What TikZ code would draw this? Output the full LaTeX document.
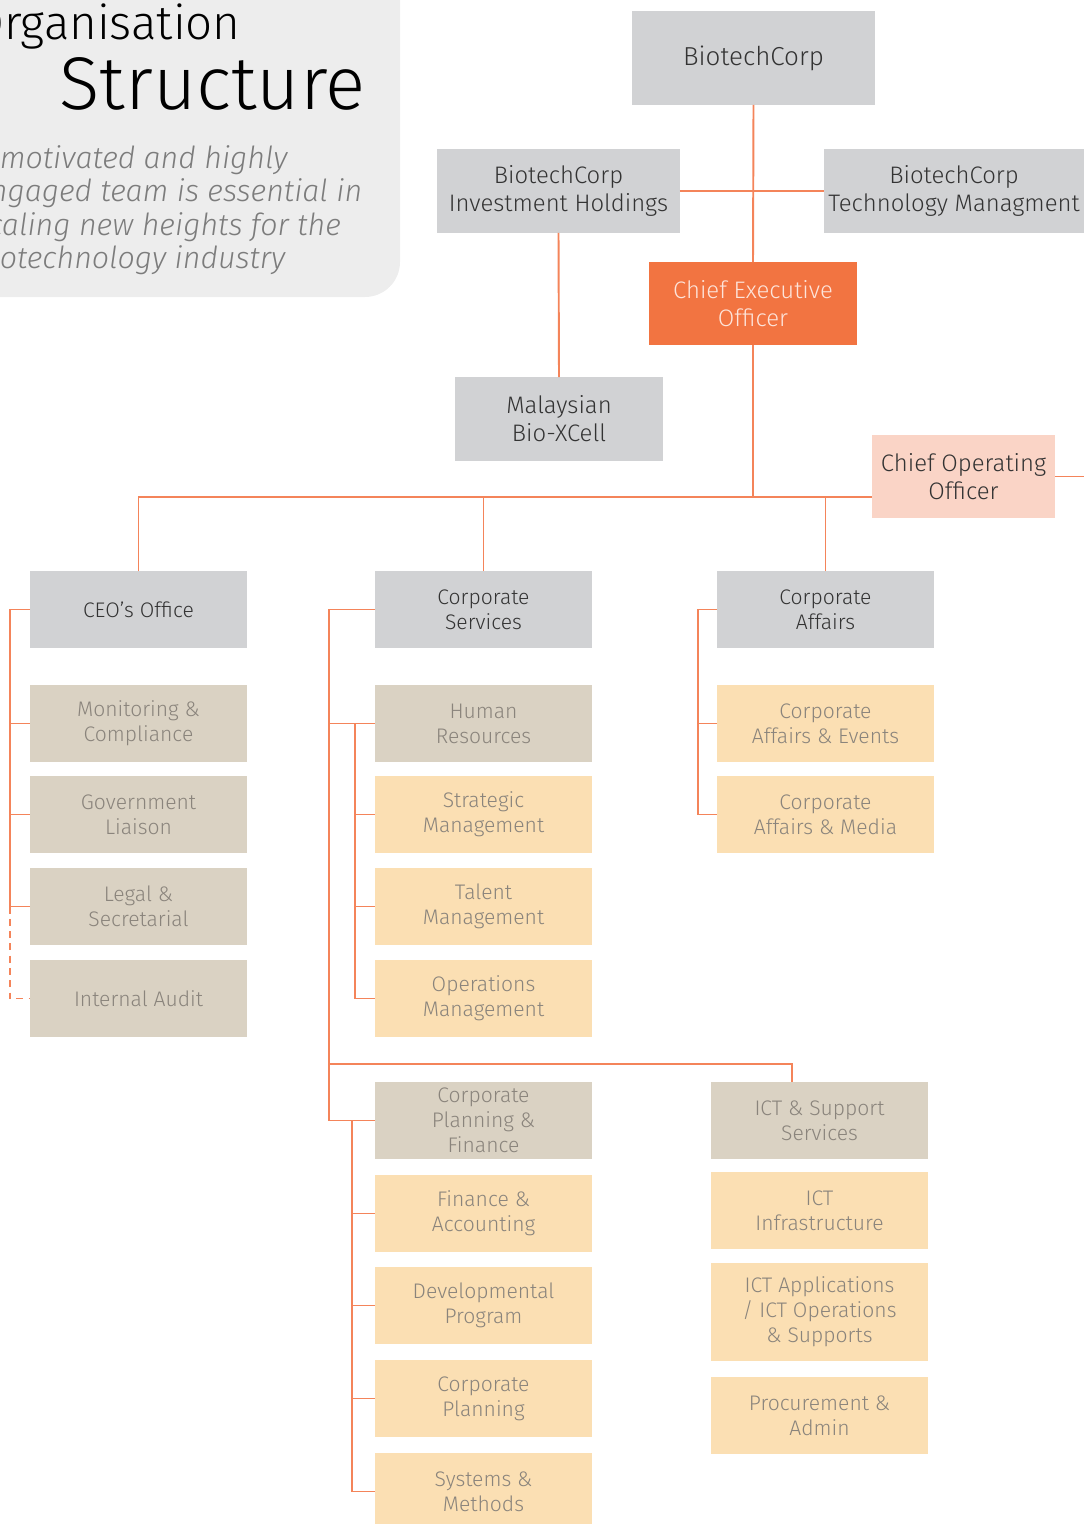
\documentclass[tikz,border=0pt]{standalone}
\usepackage{fontspec}
\IfFontExistsTF{Fira Sans Light}{%
  \setmainfont{Fira Sans Light}[ItalicFont={Fira Sans Light Italic}]}{%
  \setmainfont{Fira Sans}}
\usepackage{tikz}

\definecolor{boxgray}{HTML}{D1D2D4}
\definecolor{boxbeige}{HTML}{DAD2C3}
\definecolor{boxpeach}{HTML}{FBDFB3}
\definecolor{ceoorange}{HTML}{F27441}
\definecolor{coopink}{HTML}{FAD4C6}
\definecolor{linkorange}{HTML}{F4845A}
\definecolor{hdrgray}{HTML}{EDEDED}
\definecolor{txtdark}{HTML}{333333}
\definecolor{txtsoft}{HTML}{8A847C}
\definecolor{txtceo}{HTML}{FDE4DA}
\definecolor{txtmotto}{HTML}{7C7C7C}

\begin{document}
\begin{tikzpicture}[x=0.02cm, y=-0.02cm,
  unit/.style={inner sep=0pt, outer sep=0pt, align=center, font=\fontsize{12}{14.2}\selectfont, minimum width=4.34cm, minimum height=1.54cm},
  head/.style={unit, fill=boxgray, text=txtdark},
  sub/.style={unit, fill=boxbeige, text=txtsoft},
  team/.style={unit, fill=boxpeach, text=txtsoft},
  holding/.style={unit, fill=boxgray, text=txtdark, font=\fontsize{13.6}{15.9}\selectfont, minimum width=4.86cm, minimum height=1.68cm},
  link/.style={draw=linkorange, line width=1.1pt}]
  \useasboundingbox (0,0) rectangle (1084,1524);
  \fill[hdrgray, rounded corners=0.7cm] (-40,-40) rectangle (400,297);
  \node[anchor=base east, inner sep=0pt, text=black, font=\fontsize{27}{27}\selectfont] (orgword) at (241,40) {Organisation};
  \node[anchor=base east, inner sep=0pt, text=black, font=\fontsize{42.5}{42.5}\selectfont] (structword) at (366,110) {Structure};
  \node[anchor=north west, inner sep=0pt, align=left, text=txtmotto, font=\itshape\fontsize{17.3}{19}\selectfont] (motto) at (-26,145)
    {A motivated and highly\\ engaged team is essential in\\ scaling new heights for the\\ biotechnology industry};

  \node[holding, minimum height=1.88cm, font=\fontsize{14.8}{15.9}\selectfont] (bc) at (753.5,58) {BiotechCorp};
  \node[holding] (bih) at (558.5,191) {BiotechCorp\\ Investment Holdings};
  \node[holding, minimum width=5.2cm] (btm) at (954,191) {BiotechCorp\\ Technology Managment};
  \node[holding, fill=ceoorange, text=txtceo, minimum width=4.16cm, minimum height=1.66cm] (ceo) at (753,303.5) {Chief Executive\\ Officer};
  \node[holding, minimum width=4.16cm] (mbx) at (559,419) {Malaysian\\ Bio-XCell};
  \node[holding, fill=coopink, minimum width=3.66cm, minimum height=1.66cm] (coo) at (963.5,476.5) {Chief Operating\\ Officer};

  \node[head] (ceooff) at (138.5,609.5) {CEO’s Office};
  \node[head] (corpsvc) at (483.5,609.5) {Corporate\\ Services};
  \node[head] (corpaff) at (825.5,609.5) {Corporate\\ Affairs};

  \node[sub] (moncomp) at (138.5,723.5) {Monitoring \&\\ Compliance};
  \node[sub] (govlia) at (138.5,814.5) {Government\\ Liaison};
  \node[sub] (legsec) at (138.5,906.5) {Legal \&\\ Secretarial};
  \node[sub] (intaud) at (138.5,998.5) {Internal Audit};

  \node[sub] (humres) at (483.5,723.5) {Human\\ Resources};
  \node[team] (strmgt) at (483.5,814.5) {Strategic\\ Management};
  \node[team] (talmgt) at (483.5,906.5) {Talent\\ Management};
  \node[team] (opsmgt) at (483.5,998.5) {Operations\\ Management};

  \node[team] (caevents) at (825.5,723.5) {Corporate\\ Affairs \& Events};
  \node[team] (camedia) at (825.5,814.5) {Corporate\\ Affairs \& Media};

  \node[sub] (cpfin) at (483.5,1120.5) {Corporate\\ Planning \&\\ Finance};
  \node[team] (finacc) at (483.5,1213.5) {Finance \&\\ Accounting};
  \node[team] (devprog) at (483.5,1305.5) {Developmental\\ Program};
  \node[team] (corpplan) at (483.5,1398.5) {Corporate\\ Planning};
  \node[team] (sysmeth) at (483.5,1491.5) {Systems \&\\ Methods};

  \node[sub] (ictsup) at (819.5,1120.5) {ICT \& Support\\ Services};
  \node[team] (ictinf) at (819.5,1210.5) {ICT\\ Infrastructure};
  \node[team, minimum height=1.96cm] (ictapp) at (819.5,1312) {ICT Applications\\ / ICT Operations\\ \& Supports};
  \node[team] (procad) at (819.5,1415.5) {Procurement \&\\ Admin};

  \coordinate (bus) at (0,497);
  \coordinate (cooout) at (1090,0);
  \coordinate (ceorail) at (10,0);
  \coordinate (csrail) at (329,0);
  \coordinate (hrrail) at (355,0);
  \coordinate (cprail) at (352,0);
  \coordinate (carail) at (698,0);
  \coordinate (ictbus) at (792,1064);

  \draw[link] (bc.south) -- (ceo.north);
  \draw[link] (bih.east) -- (btm.west);
  \draw[link] (bih.south) -- (mbx.north);
  \draw[link] (ceo.south) -- (ceo.south |- bus);
  \draw[link] (ceooff.north) |- (coo.west |- bus);
  \draw[link] (corpsvc.north) -- (corpsvc.north |- bus);
  \draw[link] (corpaff.north) -- (corpaff.north |- bus);
  \draw[link] (coo.east) -- (coo.east -| cooout);

  \draw[link] (ceooff.west) -| (ceorail |- legsec.west) -- (legsec.west);
  \draw[link] (ceorail |- moncomp.west) -- (moncomp.west);
  \draw[link] (ceorail |- govlia.west) -- (govlia.west);
  \draw[link, dash pattern=on 4pt off 3pt] (ceorail |- legsec.west) |- (intaud.west);

  \draw[link] (corpsvc.west) -| (csrail |- cpfin.west) -- (cpfin.west);
  \draw[link] (csrail |- humres.west) -- (humres.west);
  \draw[link] (hrrail |- humres.west) |- (opsmgt.west);
  \draw[link] (hrrail |- strmgt.west) -- (strmgt.west);
  \draw[link] (hrrail |- talmgt.west) -- (talmgt.west);
  \draw[link] (csrail |- ictbus) -| (ictbus |- ictsup.north);
  \draw[link] (cprail |- cpfin.west) |- (sysmeth.west);
  \draw[link] (cprail |- finacc.west) -- (finacc.west);
  \draw[link] (cprail |- devprog.west) -- (devprog.west);
  \draw[link] (cprail |- corpplan.west) -- (corpplan.west);

  \draw[link] (corpaff.west) -| (carail |- camedia.west) -- (camedia.west);
  \draw[link] (carail |- caevents.west) -- (caevents.west);
\end{tikzpicture}
\end{document}
